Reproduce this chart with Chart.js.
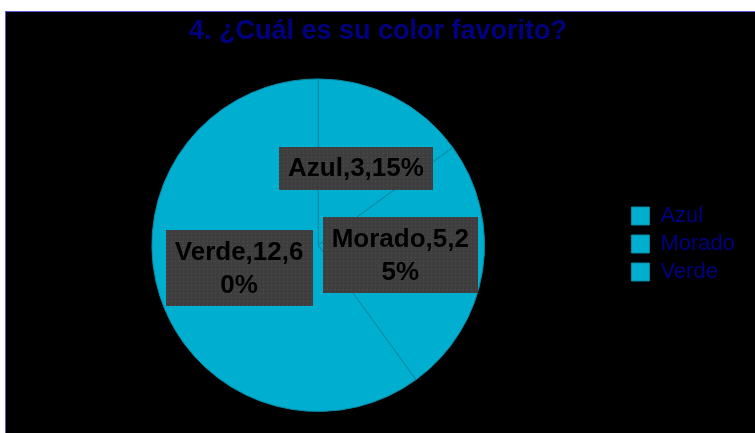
<!DOCTYPE html>
<html>
<head>
<meta charset="utf-8">
<script src="https://cdn.jsdelivr.net/npm/chart.js@4.4.1/dist/chart.umd.min.js"></script>
<style>
  html, body { margin: 0; padding: 0; background: #fff; }
  #frame {
    position: absolute; left: 5px; top: 11px; width: 750px; height: 422px;
    background: #000; border-left: 1px solid #5a5ad2; border-top: 1px solid #5a5ad2;
  }
  #chart { display: block; }
</style>
</head>
<body>
<div id="frame"><canvas id="chart" width="749" height="421"></canvas></div>
<script>
// Survey answers: favourite colour
const categories = ['Azul', 'Morado', 'Verde'];
const counts = [3, 5, 12];
const percents = [15, 25, 60];
const titleText = '4. ¿Cuál es su color favorito?';

const sliceColor = '#00AECF';
const labelFont = 'bold 26px "Liberation Sans", Arial, sans-serif';

// dotted grey fill for the data label boxes
function makeDotPattern(ctx) {
    const c = document.createElement('canvas');
    c.width = 4; c.height = 4;
    const p = c.getContext('2d');
    p.fillStyle = '#3e3e3e';
    p.fillRect(0, 0, 4, 4);
    p.fillStyle = '#505050';
    p.fillRect(1, 1, 1, 1);
    return ctx.createPattern(c, 'repeat');
}

// Excel-style wrapping: break by character once the line gets too wide
function wrapChars(ctx, text, maxWidth) {
    const lines = [];
    let cur = '';
    for (const ch of text) {
        if (cur && ctx.measureText(cur + ch).width > maxWidth) {
            lines.push(cur);
            cur = ch;
        } else {
            cur += ch;
        }
    }
    if (cur) lines.push(cur);
    return lines;
}

const boxLabels = {
    id: 'boxLabels',
    afterDatasetsDraw(chart) {
        const ctx = chart.ctx;
        const meta = chart.getDatasetMeta(0);
        const fill = makeDotPattern(ctx);
        ctx.save();
        ctx.font = labelFont;
        ctx.textAlign = 'center';
        ctx.textBaseline = 'middle';
        meta.data.forEach((arc, i) => {
            const text = `${categories[i]},${counts[i]},${percents[i]}%`;
            const lines = wrapChars(ctx, text, 140);
            const lineH = 33;
            const w = Math.max(...lines.map(l => ctx.measureText(l).width)) + 18;
            const h = lines.length * lineH + 10;
            const pt = arc.getCenterPoint();
            const cx = pt.x, cy = pt.y - 3;
            ctx.fillStyle = fill;
            ctx.fillRect(Math.round(cx - w / 2), Math.round(cy - h / 2), Math.round(w), Math.round(h));
            ctx.fillStyle = '#000';
            lines.forEach((l, k) => {
                ctx.fillText(l, cx, cy - (lines.length - 1) * lineH / 2 + k * lineH + 1);
            });
        });
        ctx.restore();
    }
};

new Chart(document.getElementById('chart'), {
    type: 'pie',
    data: {
        labels: categories,
        datasets: [{
            data: counts,
            backgroundColor: sliceColor,
            borderColor: '#0a8aa6',
            borderWidth: 1
        }]
    },
    options: {
        responsive: false,
        animation: false,
        layout: { padding: { left: 5, right: 10, top: 0, bottom: 21 } },
        plugins: {
            title: {
                display: true,
                text: titleText,
                color: '#000080',
                font: { family: '"Liberation Sans", Arial, sans-serif', size: 27, weight: 'bold' },
                padding: { top: 3, bottom: 31 }
            },
            legend: {
                position: 'right',
                // blank legend title only pushes the entries down
                title: {
                    display: true,
                    text: ' ',
                    font: { size: 10 },
                    padding: { top: 52, bottom: 0 }
                },
                labels: {
                    color: '#000080',
                    boxWidth: 18,
                    boxHeight: 18,
                    padding: 6,
                    font: { family: '"Liberation Sans", Arial, sans-serif', size: 22 }
                }
            },
            tooltip: { enabled: false }
        }
    },
    plugins: [boxLabels]
});
</script>
</body>
</html>
